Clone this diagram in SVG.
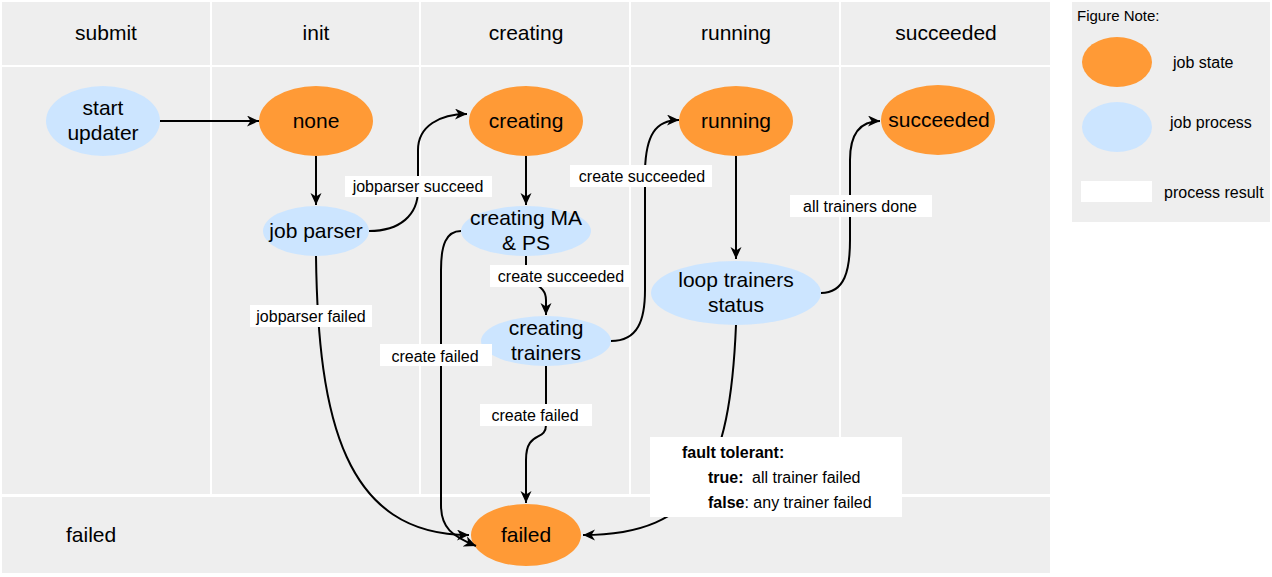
<svg xmlns="http://www.w3.org/2000/svg" width="1272" height="577" viewBox="0 0 1272 577">
<style>
.cell{fill:#eeeeee}
.state{fill:#FF9A36}
.proc{fill:#CCE5FF}
.big{font-family:"Liberation Sans",Arial,sans-serif;font-size:21px;fill:#000;text-anchor:middle}
.lbl{font-family:"Liberation Sans",Arial,sans-serif;font-size:16px;fill:#000;text-anchor:middle}
.lbox{fill:#ffffff}
.edge{fill:none;stroke:#000;stroke-width:2;marker-end:url(#arr)}
.note{font-family:"Liberation Sans",Arial,sans-serif;font-size:16px;fill:#000}
</style>
<defs>
<marker id="arr" markerUnits="userSpaceOnUse" markerWidth="13" markerHeight="12" refX="12" refY="5.5" orient="auto">
<path d="M0,0 L12,5.5 L0,11 L3.5,5.5 z" fill="#000"/>
</marker>
</defs>
<rect width="1272" height="577" fill="#ffffff"/>
<g id="lanes">
<rect class="cell" x="2" y="2" width="208" height="63"/>
<rect class="cell" x="212" y="2" width="207" height="63"/>
<rect class="cell" x="421" y="2" width="208" height="63"/>
<rect class="cell" x="631" y="2" width="208" height="63"/>
<rect class="cell" x="841" y="2" width="209" height="63"/>
<rect class="cell" x="2" y="67" width="208" height="427"/>
<rect class="cell" x="212" y="67" width="207" height="427"/>
<rect class="cell" x="421" y="67" width="208" height="427"/>
<rect class="cell" x="631" y="67" width="208" height="427"/>
<rect class="cell" x="841" y="67" width="209" height="427"/>
<rect class="cell" x="2" y="497" width="1048" height="76"/>
<text class="big" x="106" y="40">submit</text>
<text class="big" x="316" y="40">init</text>
<text class="big" x="526" y="40">creating</text>
<text class="big" x="736" y="40">running</text>
<text class="big" x="946" y="40">succeeded</text>
<text class="big" x="66" y="542" style="text-anchor:start">failed</text>
</g>
<g id="legend">
<rect class="cell" x="1072" y="2" width="198" height="220"/>
<text x="1077" y="21" style="font-family:'Liberation Sans',Arial,sans-serif;font-size:15px">Figure Note:</text>
<ellipse class="state" cx="1117" cy="62" rx="35" ry="25"/>
<text class="note" x="1173" y="68">job state</text>
<ellipse class="proc" cx="1117" cy="127" rx="35" ry="25"/>
<text class="note" x="1170" y="128">job process</text>
<rect class="lbox" x="1081" y="181" width="71" height="21"/>
<text class="note" x="1164" y="198">process result</text>
</g>
<g id="node-start-updater">
<ellipse class="proc" cx="103" cy="121" rx="57" ry="35"/>
<text class="big" x="103" y="115">start</text>
<text class="big" x="103" y="140">updater</text>
</g>
<g id="node-none">
<ellipse class="state" cx="316" cy="121" rx="57" ry="35"/>
<text class="big" x="316" y="128">none</text>
</g>
<g id="node-creating">
<ellipse class="state" cx="526" cy="121" rx="57" ry="35"/>
<text class="big" x="526" y="128">creating</text>
</g>
<g id="node-running">
<ellipse class="state" cx="736" cy="121" rx="57" ry="35"/>
<text class="big" x="736" y="128">running</text>
</g>
<g id="node-succeeded">
<ellipse class="state" cx="938" cy="120" rx="57" ry="35"/>
<text class="big" x="939" y="127">succeeded</text>
</g>
<g id="node-job-parser">
<ellipse class="proc" cx="316" cy="231" rx="53" ry="25"/>
<text class="big" x="316" y="238">job parser</text>
</g>
<g id="node-creating-ma-ps">
<ellipse class="proc" cx="526" cy="231" rx="65" ry="25"/>
<text class="big" x="526" y="225">creating MA</text>
<text class="big" x="526" y="250">&amp; PS</text>
</g>
<g id="node-creating-trainers">
<ellipse class="proc" cx="546" cy="341" rx="65" ry="25"/>
<text class="big" x="546" y="335">creating</text>
<text class="big" x="546" y="360">trainers</text>
</g>
<g id="node-loop-trainers">
<ellipse class="proc" cx="736" cy="293" rx="85" ry="32"/>
<text class="big" x="736" y="287">loop trainers</text>
<text class="big" x="736" y="312">status</text>
</g>
<g id="node-failed">
<ellipse class="state" cx="526" cy="535" rx="55" ry="31"/>
<text class="big" x="526" y="542">failed</text>
</g>
<g id="connectors">
<path class="edge" d="M160,121 L259,121"/>
<path class="edge" d="M316,156 L316,205"/>
<path class="edge" d="M369,231 C400,231 418,215 418,190 L418,150 C418,126 440,114 467,114"/>
<path class="edge" d="M526,156 L526,205"/>
<path class="edge" d="M526,256 L526,270 C526,286 546,282 546,300 L546,315"/>
<path class="edge" d="M461,231 C446,231 441,245 441,270 L441,505 C441,528 452,536 476,546"/>
<path class="edge" d="M316,256 C318,420 345,535 469,535"/>
<path class="edge" d="M546,366 L546,425 C546,442 526,430 526,460 L526,503"/>
<path class="edge" d="M611,341 C638,341 645,320 645,290 L645,170 C646,136 655,120 679,120"/>
<path class="edge" d="M736,156 L736,259"/>
<path class="edge" d="M821,293 C845,293 850,270 850,240 L850,160 C850,136 858,121 880,121"/>
<path class="edge" d="M736,325 C730,470 700,535 583,535"/>
</g>
<g id="labels">
<rect class="lbox" x="345" y="176" width="147" height="21"/>
<text class="lbl" x="418" y="192">jobparser succeed</text>
<rect class="lbox" x="570" y="165" width="142" height="22"/>
<text class="lbl" x="642" y="182">create succeeded</text>
<rect class="lbox" x="490" y="265" width="139" height="22"/>
<text class="lbl" x="561" y="282">create succeeded</text>
<rect class="lbox" x="250" y="305" width="122" height="22"/>
<text class="lbl" x="311" y="322">jobparser failed</text>
<rect class="lbox" x="380" y="344" width="112" height="22"/>
<text class="lbl" x="435" y="362">create failed</text>
<rect class="lbox" x="480" y="404" width="112" height="22"/>
<text class="lbl" x="535" y="421">create failed</text>
<rect class="lbox" x="790" y="195" width="142" height="22"/>
<text class="lbl" x="860" y="212">all trainers done</text>
<rect class="lbox" x="650" y="437" width="252" height="80"/>
<text class="note" x="682" y="458" font-weight="bold">fault tolerant:</text>
<text class="note" x="708" y="483"><tspan font-weight="bold">true:</tspan><tspan x="752">all trainer failed</tspan></text>
<text class="note" x="708" y="508"><tspan font-weight="bold">false</tspan>: any trainer failed</text>
</g>
</svg>
